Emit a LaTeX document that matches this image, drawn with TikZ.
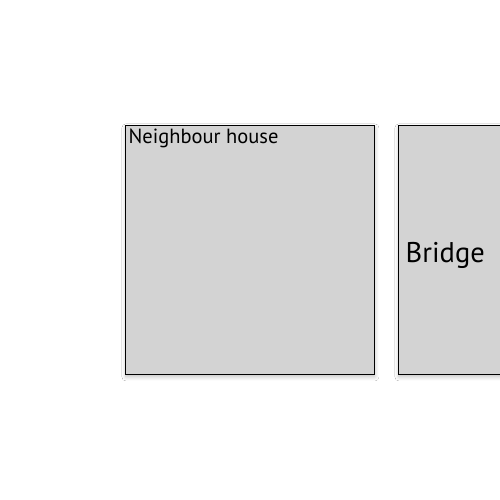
\documentclass[tikz,border=0pt]{standalone}
\usepackage{fontspec}
\setmainfont{PT Sans}
\usetikzlibrary{shadows.blur}
\begin{document}
\begin{tikzpicture}[x=1pt,y=-1pt,
  box/.style={draw=black,line width=0.8pt,fill={rgb,255:red,211;green,211;blue,211},
    blur shadow={shadow xshift=0.5pt,shadow yshift=-2.5pt,shadow blur steps=8,shadow blur radius=4pt,shadow opacity=25}},
  lbl/.style={inner sep=0pt,font=\fontsize{20.5}{22}\selectfont}]
\useasboundingbox (0,0) rectangle (500,500);
\fill[white] (0,0) rectangle (500,500);
\begin{scope}
\clip (0,0) rectangle (500,500);
\node[box,minimum width=249pt,minimum height=249pt,anchor=north west,inner sep=0pt] (house) at (125,125) {};
\node[box,minimum width=130pt,minimum height=249pt,anchor=north west,inner sep=0pt] (bridge) at (398,125) {};
\end{scope}
\node[lbl,anchor=base west] (houselbl) at (128.5,143) {Neighbour house};
\node[lbl,anchor=base west,font=\fontsize{28.5}{32}\selectfont] (bridgelbl) at (405.5,262) {Bridge};
\end{tikzpicture}
\end{document}
